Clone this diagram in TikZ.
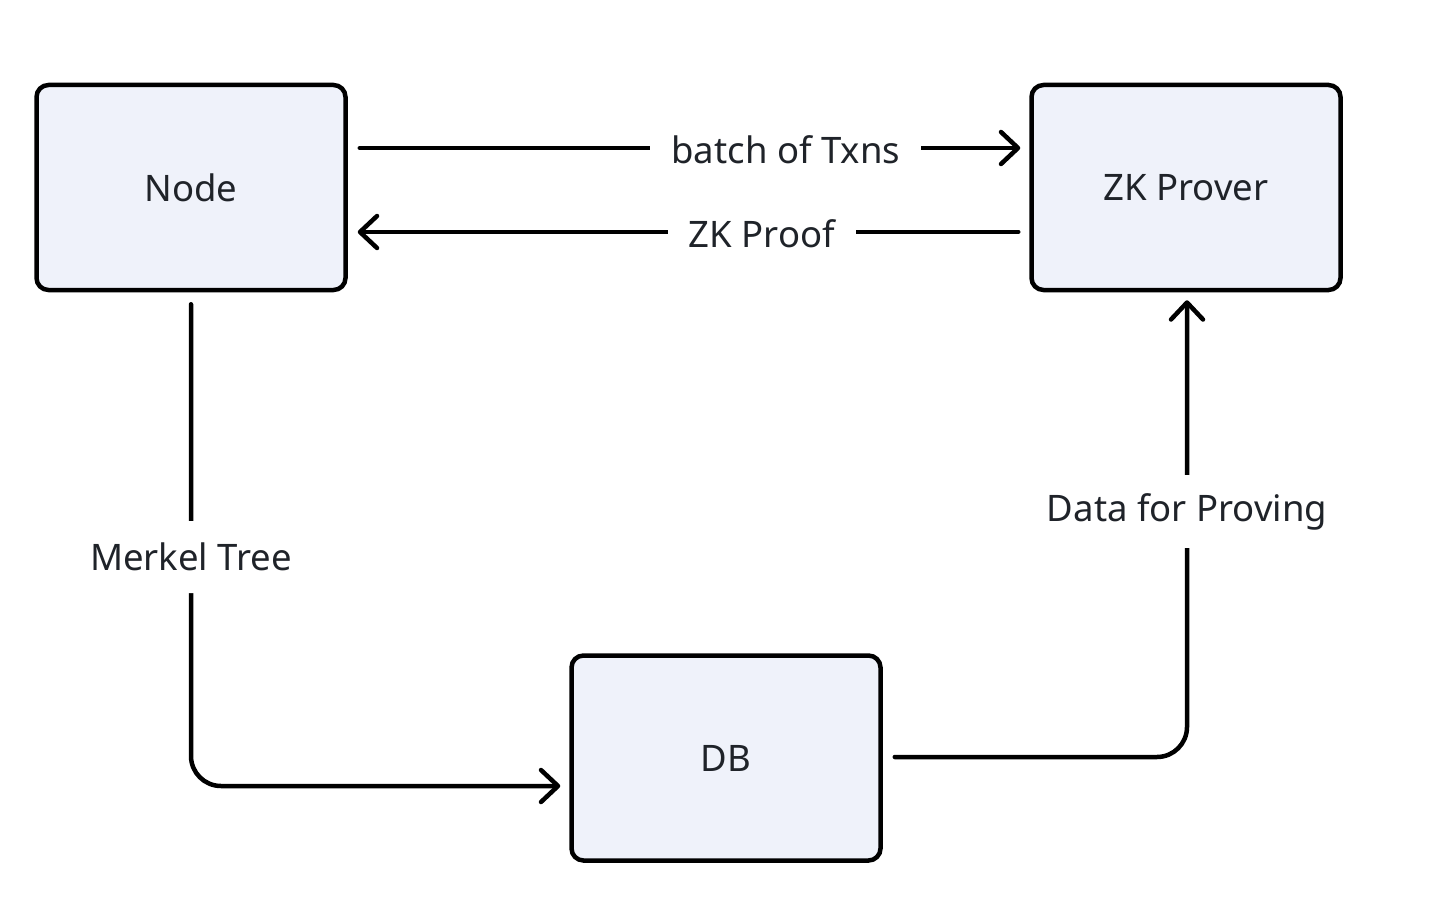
\documentclass[tikz,border=0pt]{standalone}
\usepackage{fontspec}
\setmainfont{Noto Sans}
\usetikzlibrary{arrows.meta}
\definecolor{boxfill}{HTML}{EFF2FA}
\definecolor{txt}{HTML}{1F2329}
\tikzset{
  blk/.style={draw=black, line width=4.5pt, fill=boxfill, rounded corners=12pt,
    minimum width=309pt, minimum height=205pt, inner sep=0pt,
    font=\fontsize{36.5}{40}\selectfont, text=txt},
  conn/.style={line width=4.5pt, line cap=round,
    -{Straight Barb[length=17pt,width=32pt,line width=4.5pt,round]}},
  lbl/.style={fill=white, inner xsep=21pt, inner ysep=22pt,
    font=\fontsize{36.5}{40}\selectfont, text=txt}
}
\begin{document}
\begin{tikzpicture}[x=1pt,y=-1pt]
\useasboundingbox[fill=white] (0,0) rectangle (1442,912);
\node[blk] (node) at (191,187.5) {\raisebox{-2pt}{Node}};
\node[blk] (zk) at (1186,187.5) {\raisebox{-2pt}{ZK Prover}};
\node[blk] (db) at (726,758) {\raisebox{-2pt}{DB}};

\draw[conn] ([xshift=12pt,yshift=39.5pt]node.east) --
  node[lbl,pos=0.645,yshift=-2pt] {batch of Txns} ([xshift=-9pt,yshift=39.5pt]zk.west);
\draw[conn] ([xshift=-11pt,yshift=-44.5pt]zk.west) --
  node[lbl,pos=0.388,yshift=-2pt] {ZK Proof} ([xshift=10pt,yshift=-44.5pt]node.east);

\draw[conn, rounded corners=30pt] ([yshift=-12pt]node.south) |-
  node[lbl,pos=0.2624,inner xsep=4pt] {Merkel Tree} ([xshift=-9pt,yshift=-28pt]db.west);
\draw[conn, rounded corners=30pt] ([xshift=12pt,yshift=1pt]db.east) -|
  node[lbl,pos=0.771,inner xsep=4pt,inner ysep=18pt,yshift=-2pt] {Data for Proving} ([xshift=1pt,yshift=-8pt]zk.south);
\end{tikzpicture}
\end{document}
